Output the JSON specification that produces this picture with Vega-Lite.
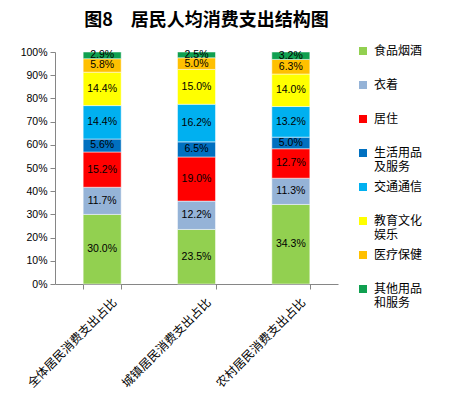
{
  "$schema": "https://vega.github.io/schema/vega-lite/v6.json",
  "autosize": "none",
  "width": 283,
  "height": 232,
  "padding": {"left": 55, "top": 52, "right": 123, "bottom": 111},
  "background": "white",
  "title": {
    "text": "图8　居民人均消费支出结构图",
    "font": "Noto Sans CJK SC",
    "fontSize": 18,
    "fontWeight": "bold",
    "color": "#000000",
    "anchor": "middle",
    "dx": 10,
    "offset": 15
  },
  "data": {
    "values": [
      {"grp": "全体居民消费支出占比", "item": "食品烟酒", "v": 30.0},
      {"grp": "全体居民消费支出占比", "item": "衣着", "v": 11.7},
      {"grp": "全体居民消费支出占比", "item": "居住", "v": 15.2},
      {"grp": "全体居民消费支出占比", "item": "生活用品及服务", "v": 5.6},
      {"grp": "全体居民消费支出占比", "item": "交通通信", "v": 14.4},
      {"grp": "全体居民消费支出占比", "item": "教育文化娱乐", "v": 14.4},
      {"grp": "全体居民消费支出占比", "item": "医疗保健", "v": 5.8},
      {"grp": "全体居民消费支出占比", "item": "其他用品和服务", "v": 2.9},
      {"grp": "城镇居民消费支出占比", "item": "食品烟酒", "v": 23.5},
      {"grp": "城镇居民消费支出占比", "item": "衣着", "v": 12.2},
      {"grp": "城镇居民消费支出占比", "item": "居住", "v": 19.0},
      {"grp": "城镇居民消费支出占比", "item": "生活用品及服务", "v": 6.5},
      {"grp": "城镇居民消费支出占比", "item": "交通通信", "v": 16.2},
      {"grp": "城镇居民消费支出占比", "item": "教育文化娱乐", "v": 15.0},
      {"grp": "城镇居民消费支出占比", "item": "医疗保健", "v": 5.0},
      {"grp": "城镇居民消费支出占比", "item": "其他用品和服务", "v": 2.5},
      {"grp": "农村居民消费支出占比", "item": "食品烟酒", "v": 34.3},
      {"grp": "农村居民消费支出占比", "item": "衣着", "v": 11.3},
      {"grp": "农村居民消费支出占比", "item": "居住", "v": 12.7},
      {"grp": "农村居民消费支出占比", "item": "生活用品及服务", "v": 5.0},
      {"grp": "农村居民消费支出占比", "item": "交通通信", "v": 13.2},
      {"grp": "农村居民消费支出占比", "item": "教育文化娱乐", "v": 14.0},
      {"grp": "农村居民消费支出占比", "item": "医疗保健", "v": 6.3},
      {"grp": "农村居民消费支出占比", "item": "其他用品和服务", "v": 3.2}
    ]
  },
  "transform": [
    {"calculate": "indexof(['食品烟酒','衣着','居住','生活用品及服务','交通通信','教育文化娱乐','医疗保健','其他用品和服务'], datum.item)", "as": "ord"},
    {"stack": "v", "groupby": ["grp"], "sort": [{"field": "ord", "order": "ascending"}], "offset": "normalize", "as": ["y0", "y1"]},
    {"calculate": "(datum.y0 + datum.y1) / 2", "as": "mid"},
    {"calculate": "format(datum.v, '.1f') + '%'", "as": "lab"}
  ],
  "encoding": {
    "x": {
      "field": "grp",
      "type": "nominal",
      "sort": ["全体居民消费支出占比", "城镇居民消费支出占比", "农村居民消费支出占比"],
      "scale": {"paddingInner": 0.597, "paddingOuter": 0.2985},
      "axis": {
        "title": null,
        "labelAngle": -45,
        "labelAlign": "right",
        "labelBaseline": "middle",
        "labelFont": "Noto Sans CJK SC",
        "labelFontSize": 12,
        "labelColor": "#000000",
        "labelOffset": 12,
        "labelPadding": 11,
        "tickBand": "extent",
        "domainColor": "#868686",
        "tickColor": "#868686",
        "tickSize": 5,
        "labelLimit": 300
      }
    }
  },
  "layer": [
    {
      "mark": {"type": "bar", "stroke": "white", "strokeWidth": 0.5},
      "encoding": {
        "y": {
          "field": "y0",
          "type": "quantitative",
          "scale": {"domain": [0, 1], "nice": false},
          "axis": {
            "title": null,
            "values": [0, 0.1, 0.2, 0.3, 0.4, 0.5, 0.6, 0.7, 0.8, 0.9, 1],
            "tickCount": 11,
            "format": ".0%",
            "grid": false,
            "labelOverlap": false,
            "labelFont": "Liberation Sans",
            "labelFontSize": 10.5,
            "labelColor": "#000000",
            "domainColor": "#868686",
            "tickColor": "#868686",
            "tickSize": 5,
            "labelPadding": 3
          }
        },
        "y2": {"field": "y1"},
        "color": {
          "field": "item",
          "type": "nominal",
          "scale": {
            "domain": ["食品烟酒", "衣着", "居住", "生活用品及服务", "交通通信", "教育文化娱乐", "医疗保健", "其他用品和服务"],
            "range": ["#92D050", "#95B3D7", "#FF0000", "#0070C0", "#00B0F0", "#FFFF00", "#FFC000", "#10A050"]
          },
          "legend": {
            "title": null,
            "orient": "none",
            "legendX": 302,
            "legendY": -7,
            "padding": 0,
            "symbolType": "square",
            "symbolSize": 64,
            "symbolStrokeWidth": 0,
            "labelFont": "Noto Sans CJK SC",
            "labelFontSize": 12,
            "labelColor": "#000000",
            "labelOffset": 5,
            "rowPadding": 8,
            "labelExpr": "datum.label == '生活用品及服务' ? ['生活用品', '及服务'] : datum.label == '教育文化娱乐' ? ['教育文化', '娱乐'] : datum.label == '其他用品和服务' ? ['其他用品', '和服务'] : [datum.label, ' ']",
            "encode": {
              "labels": {"update": {"baseline": {"value": "top"}, "dy": {"value": -7}, "lineHeight": {"value": 15}}}
            }
          }
        }
      }
    },
    {
      "mark": {"type": "text", "font": "Liberation Sans", "fontSize": 10.5, "color": "#000000"},
      "encoding": {
        "y": {
          "field": "mid",
          "type": "quantitative",
          "axis": {
            "title": null,
            "values": [0, 0.1, 0.2, 0.3, 0.4, 0.5, 0.6, 0.7, 0.8, 0.9, 1],
            "tickCount": 11,
            "format": ".0%",
            "grid": false,
            "labelOverlap": false,
            "labelFont": "Liberation Sans",
            "labelFontSize": 10.5,
            "labelColor": "#000000",
            "domainColor": "#868686",
            "tickColor": "#868686",
            "tickSize": 5,
            "labelPadding": 3
          }
        },
        "text": {"field": "lab", "type": "nominal"}
      }
    }
  ],
  "config": {
    "view": {"stroke": null}
  }
}
